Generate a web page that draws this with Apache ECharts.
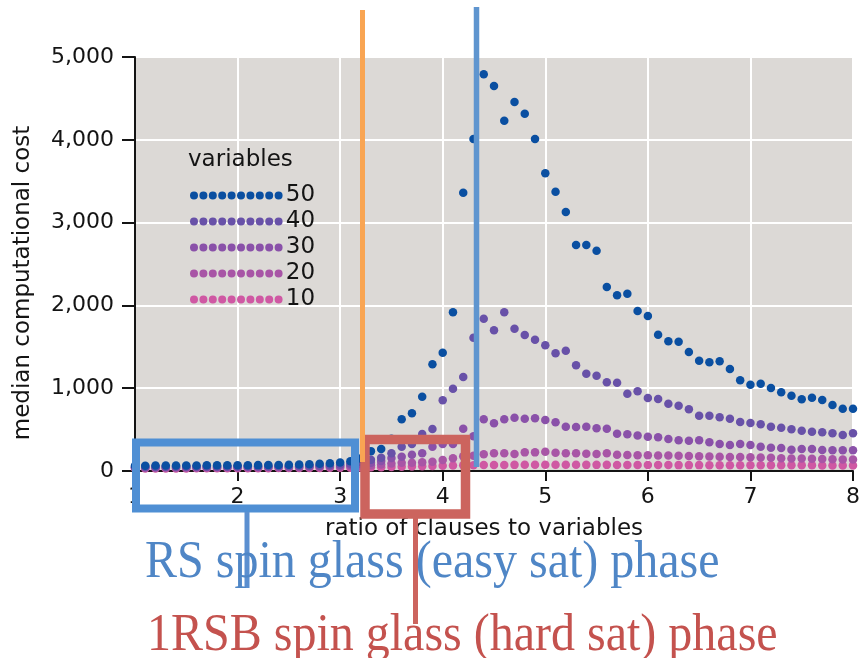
<!DOCTYPE html>
<html>
<head>
<meta charset="utf-8">
<script src="https://cdn.jsdelivr.net/npm/echarts@6/dist/echarts.min.js"></script>
<style>html,body{margin:0;padding:0;background:#fff;}#c{width:863px;height:658px;}</style>
</head>
<body>
<div id="c"></div>
<script>
// ratio of clauses to variables (x values)
const ratios = [1.0,1.1,1.2,1.3,1.4,1.5,1.6,1.7,1.8,1.9,2.0,2.1,2.2,2.3,2.4,2.5,2.6,2.7,2.8,2.9,
  3.0,3.1,3.2,3.3,3.4,3.5,3.6,3.7,3.8,3.9,4.0,4.1,4.2,4.3,4.4,4.5,4.6,4.7,4.8,4.9,
  5.0,5.1,5.2,5.3,5.4,5.5,5.6,5.7,5.8,5.9,6.0,6.1,6.2,6.3,6.4,6.5,6.6,6.7,6.8,6.9,
  7.0,7.1,7.2,7.3,7.4,7.5,7.6,7.7,7.8,7.9,8.0];

// median computational cost per number of variables
const cost50 = [62,64,65,66,66,67,67,68,68,69,70,70,71,72,73,75,78,82,88,95,
  102,118,150,240,265,390,624,697,897,1289,1429,1917,3361,4010,4791,4650,4231,4457,4315,4010,
  3595,3373,3128,2729,2729,2661,2222,2122,2141,1932,1872,1646,1566,1562,1437,1332,1313,1325,1232,1095,
  1042,1054,1002,950,909,866,885,857,797,752,752];
const cost40 = [50,51,52,52,53,53,54,54,55,55,56,56,57,58,59,60,62,64,67,72,
  78,90,110,135,160,213,294,326,447,507,854,994,1135,1610,1839,1699,1917,1719,1643,1586,
  1518,1421,1453,1277,1175,1151,1071,1066,934,963,882,870,813,789,745,668,668,649,632,592,
  580,564,535,523,504,487,475,467,455,435,455];
const cost30 = [45,46,46,47,47,48,48,49,49,50,50,51,51,52,53,54,55,57,59,62,
  66,72,85,100,120,157,173,197,214,294,326,326,511,419,624,576,624,644,632,636,
  616,588,535,531,535,515,510,450,445,428,414,407,386,370,366,370,346,326,314,326,
  314,294,282,278,257,266,266,254,250,250,250];
const cost20 = [38,38,39,39,40,40,40,41,41,42,42,43,43,44,44,45,46,47,48,50,
  52,56,62,70,80,90,100,101,105,113,133,153,178,185,201,213,213,205,225,225,
  233,221,213,213,209,205,213,197,193,190,190,188,186,184,180,178,176,172,170,168,
  165,162,160,155,152,150,148,145,142,140,138];
const cost10 = [30,30,30,31,31,31,32,32,32,33,33,33,34,34,35,35,36,36,37,38,
  39,40,42,44,46,48,51,54,57,60,63,66,68,70,72,72,73,74,75,75,
  76,75,75,75,74,74,74,73,73,73,72,72,72,71,71,71,70,70,70,70,
  69,69,69,68,68,68,68,67,67,67,67];

const seriesNames = ['10','20','30','40','50'];
const seriesValues = [cost10, cost20, cost30, cost40, cost50];
const seriesColors = ['#cf58a3','#a855a6','#8a51a9','#6851a8','#0a4fa1'];
const yTicks = [0,1000,2000,3000,4000,5000];

const TXT = '#141414';
const FONT = 'DejaVu Sans';

// legend icon: a row of 10 dots
let dotPath = '';
for (let i = 0; i < 10; i++) {
  const cx = 4 + 9.4 * i;
  dotPath += 'M' + (cx - 4) + ',4a4,4 0 1,0 8,0a4,4 0 1,0 -8,0';
}

const chart = echarts.init(document.getElementById('c'), null, {renderer: 'canvas'});

const series = seriesNames.map((n, k) => ({
  name: n,
  type: 'scatter',
  symbol: 'circle',
  symbolSize: 8.5,
  itemStyle: {color: seriesColors[k], opacity: 1},
  data: ratios.map((x, i) => [x, seriesValues[k][i]]),
  z: 2 + k,
  silent: true
}));

chart.setOption({
  animation: false,
  backgroundColor: '#ffffff',
  textStyle: {fontFamily: FONT},
  title: {
    text: 'variables',
    left: 188, top: 149, padding: 0,
    textStyle: {fontFamily: FONT, fontSize: 23, fontWeight: 'normal', color: TXT}
  },
  legend: {
    data: ['50','40','30','20','10'],
    orient: 'vertical',
    left: 190, top: 184, padding: 0,
    itemWidth: 93, itemHeight: 8, itemGap: 3,
    icon: 'path://' + dotPath,
    textStyle: {fontFamily: FONT, fontSize: 23, color: TXT, lineHeight: 22, padding: [0,0,0,-2]},
    selectedMode: false
  },
  grid: {
    left: 135, right: 2, top: 57, bottom: 187,
    show: true, backgroundColor: '#dcd9d6', borderWidth: 0
  },
  xAxis: {
    type: 'value', min: 1, max: 8, interval: 1,
    name: 'ratio of clauses to variables',
    nameLocation: 'middle', nameGap: 47,
    nameTextStyle: {fontFamily: FONT, fontSize: 23, color: TXT, padding: [0, 20, 0, 0]},
    axisLine: {show: true, onZero: false, lineStyle: {color: TXT, width: 2}},
    axisTick: {show: true, length: 10, lineStyle: {color: TXT, width: 2}},
    axisLabel: {fontFamily: FONT, fontSize: 22, color: TXT, margin: 15},
    splitLine: {show: true, lineStyle: {color: '#ffffff', width: 2}}
  },
  yAxis: {
    type: 'value', min: yTicks[0], max: yTicks[yTicks.length - 1], interval: 1000,
    name: 'median computational cost',
    nameLocation: 'middle', nameGap: 100,
    nameTextStyle: {fontFamily: FONT, fontSize: 23, color: TXT, padding: [0, 38, 0, 0]},
    axisLine: {show: true, lineStyle: {color: TXT, width: 2}},
    axisTick: {show: true, length: 13, lineStyle: {color: TXT, width: 2}},
    axisLabel: {fontFamily: FONT, fontSize: 22, color: TXT, margin: 21,
      formatter: v => v.toLocaleString('en-US')},
    splitLine: {show: true, lineStyle: {color: '#ffffff', width: 2}}
  },
  series: series,
  graphic: [
    // RS box and connector
    {type: 'rect', z: 100, shape: {x: 136, y: 442.5, width: 219, height: 66},
      style: {fill: 'none', stroke: '#4f8fd4', lineWidth: 8}},
    {type: 'line', z: 100, shape: {x1: 247, y1: 512, x2: 247, y2: 588},
      style: {stroke: '#5b8fd0', lineWidth: 5}},
    // 1RSB box and connector
    {type: 'rect', z: 100, shape: {x: 365, y: 439.5, width: 100.5, height: 74.5},
      style: {fill: 'none', stroke: '#cc645e', lineWidth: 9.5}},
    {type: 'line', z: 100, shape: {x1: 415.5, y1: 518, x2: 415.5, y2: 624},
      style: {stroke: '#cc645e', lineWidth: 5}},
    // threshold lines
    {type: 'line', z: 101, shape: {x1: 362.5, y1: 10, x2: 362.5, y2: 462},
      style: {stroke: '#f9a553', lineWidth: 5}},
    {type: 'line', z: 101, shape: {x1: 476.5, y1: 7, x2: 476.5, y2: 467},
      style: {stroke: '#5f95cf', lineWidth: 5.5}},
    // annotations
    {type: 'text', z: 100, x: 145, y: 563, scaleY: 1.1,
      style: {text: 'RS spin glass (easy sat) phase', fill: '#4f86c6',
        font: '48px "Liberation Serif"', verticalAlign: 'middle', align: 'left'}},
    {type: 'text', z: 100, x: 147, y: 636, scaleY: 1.1,
      style: {text: '1RSB spin glass (hard sat) phase', fill: '#c4524e',
        font: '48px "Liberation Serif"', verticalAlign: 'middle', align: 'left'}}
  ]
});
</script>
</body>
</html>
